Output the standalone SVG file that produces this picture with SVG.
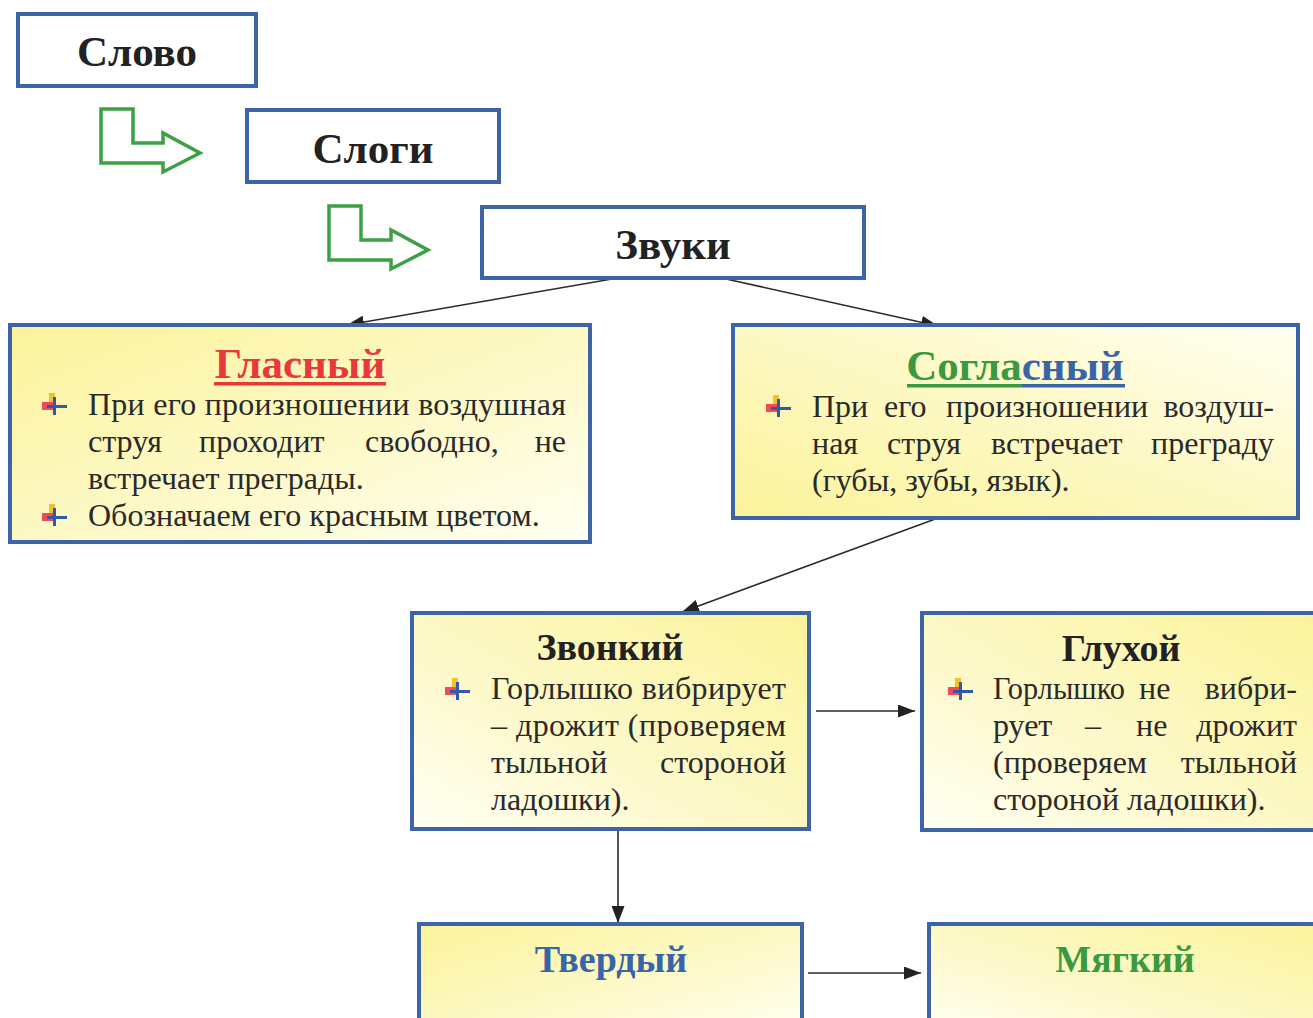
<svg xmlns="http://www.w3.org/2000/svg" width="1313" height="1018" viewBox="0 0 1313 1018">
<style>
.box{stroke:#3d64a6;stroke-width:4}
.plain{fill:#fff}
.title{font-family:"Liberation Serif","DejaVu Serif",serif;font-weight:bold;font-size:43px;fill:#222;text-anchor:middle}
.sm{font-size:38px}
.body{font-family:"Liberation Serif","DejaVu Serif",serif;font-size:32px;fill:#2a2a2a}
.end{text-anchor:end}
.conn{stroke:#2b2b2b;stroke-width:1.6;fill:none}
.garrow{fill:#fff;stroke:#3ca044;stroke-width:3.5;stroke-linejoin:miter}
</style>
<defs>
<linearGradient id="g1" x1="0" y1="0" x2="1" y2="1">
<stop offset="0" stop-color="#fbf39a"/><stop offset="0.55" stop-color="#fdf9c8"/><stop offset="1" stop-color="#fffff2"/>
</linearGradient>
<linearGradient id="g2" x1="0" y1="1" x2="1" y2="0">
<stop offset="0" stop-color="#fbf39a"/><stop offset="0.55" stop-color="#fdf9c8"/><stop offset="1" stop-color="#fffff2"/>
</linearGradient>
<linearGradient id="g3" x1="1" y1="0" x2="0" y2="1">
<stop offset="0" stop-color="#fbf39a"/><stop offset="0.6" stop-color="#fdf9cc"/><stop offset="1" stop-color="#fffff4"/>
</linearGradient>
<symbol id="bullet" viewBox="0 0 26 24" width="26" height="24">
<rect x="7" y="1" width="6" height="11" fill="#f2c12e"/>
<rect x="0" y="10" width="11" height="8" fill="#ef4b5a"/>
<rect x="5" y="13" width="20" height="3" fill="#2f5aa8"/>
<rect x="11" y="5" width="3" height="18" fill="#2f5aa8"/>
</symbol>
<marker id="arrL" viewBox="0 0 10 10" refX="10" refY="5" markerWidth="17" markerHeight="13" markerUnits="userSpaceOnUse" orient="auto" preserveAspectRatio="none">
<path d="M0,0 L10,5 L0,10 Z" fill="#222"/>
</marker>
</defs>
<rect width="1313" height="1018" fill="#fff"/>

<g id="green-arrow-1"><path class="garrow" d="M101,109 L133,109 L133,143 L163,143 L163,133 L200,153 L163,172 L163,163 L101,163 Z"/></g>
<g id="green-arrow-2"><path class="garrow" d="M329,206 L361,206 L361,240 L391,240 L391,230 L428,250 L391,269 L391,260 L329,260 Z"/></g>

<g id="connectors">
<line class="conn" x1="612" y1="279" x2="347" y2="325" marker-end="url(#arrL)"/>
<line class="conn" x1="726" y1="279" x2="938" y2="326" marker-end="url(#arrL)"/>
<line class="conn" x1="938" y1="518" x2="682" y2="612" marker-end="url(#arrL)"/>
<line class="conn" x1="816" y1="711" x2="915" y2="711" marker-end="url(#arrL)"/>
<line class="conn" x1="618" y1="830" x2="618" y2="923" marker-end="url(#arrL)"/>
<line class="conn" x1="808" y1="973" x2="921" y2="973" marker-end="url(#arrL)"/>
</g>

<g id="slovo">
<rect class="box plain" x="18" y="14" width="238" height="72"/>
<text class="title" x="137" y="66">Слово</text>
</g>
<g id="slogi">
<rect class="box plain" x="247" y="110" width="252" height="72"/>
<text class="title" x="373" y="163">Слоги</text>
</g>
<g id="zvuki">
<rect class="box plain" x="482" y="207" width="382" height="71"/>
<text class="title" x="673" y="259">Звуки</text>
</g>

<g id="glasny">
<rect class="box" x="10" y="325" width="580" height="217" fill="url(#g1)"/>
<text class="title" x="300" y="378" style="fill:#e8383c">Гласный</text>
<rect x="214" y="382" width="172" height="3.5" fill="#e8383c"/>
<use href="#bullet" x="42" y="392"/>
<text class="body" x="88" y="415" textLength="478" lengthAdjust="spacing">При его произношении воздушная</text>
<text class="body" x="88" y="452">струя</text>
<text class="body" x="199" y="452">проходит</text>
<text class="body" x="365" y="452">свободно,</text>
<text class="body end" x="566" y="452">не</text>
<text class="body" x="88" y="489">встречает преграды.</text>
<use href="#bullet" x="42" y="503"/>
<text class="body" x="88" y="526">Обозначаем его красным цветом.</text>
</g>

<g id="soglasny">
<rect class="box" x="733" y="325" width="565" height="193" fill="url(#g2)"/>
<text class="title" x="1015" y="380"><tspan style="fill:#3a9a40">Согла</tspan><tspan style="fill:#3a64a8">сный</tspan></text>
<rect x="907" y="384" width="115" height="3.5" fill="#3a9a40"/>
<rect x="1022" y="384" width="103" height="3.5" fill="#3a64a8"/>
<use href="#bullet" x="766" y="394"/>
<text class="body" x="812" y="417">При</text>
<text class="body" x="884" y="417">его</text>
<text class="body" x="946" y="417">произношении</text>
<text class="body end" x="1274" y="417">воздуш-</text>
<text class="body" x="812" y="454">ная</text>
<text class="body" x="887" y="454">струя</text>
<text class="body" x="991" y="454">встречает</text>
<text class="body end" x="1274" y="454">преграду</text>
<text class="body" x="812" y="491">(губы, зубы, язык).</text>
</g>

<g id="zvonky">
<rect class="box" x="412" y="613" width="397" height="216" fill="url(#g3)"/>
<text class="title sm" x="610" y="660">Звонкий</text>
<use href="#bullet" x="445" y="677"/>
<text class="body" x="491" y="699" textLength="295" lengthAdjust="spacing">Горлышко вибрирует</text>
<text class="body" x="491" y="736" textLength="295" lengthAdjust="spacing">– дрожит (проверяем</text>
<text class="body" x="491" y="773">тыльной</text>
<text class="body end" x="786" y="773">стороной</text>
<text class="body" x="491" y="810">ладошки).</text>
</g>

<g id="gluhoy">
<rect class="box" x="922" y="613" width="395" height="217" fill="url(#g3)"/>
<text class="title sm" x="1121" y="661">Глухой</text>
<use href="#bullet" x="948" y="677"/>
<text class="body" x="993" y="699" textLength="132" lengthAdjust="spacingAndGlyphs">Горлышко</text>
<text class="body" x="1139" y="699">не</text>
<text class="body end" x="1297" y="699">вибри-</text>
<text class="body" x="993" y="736">рует</text>
<text class="body" x="1085" y="736">–</text>
<text class="body" x="1136" y="736">не</text>
<text class="body end" x="1297" y="736">дрожит</text>
<text class="body" x="993" y="773">(проверяем</text>
<text class="body end" x="1297" y="773">тыльной</text>
<text class="body" x="993" y="810">стороной ладошки).</text>
</g>

<g id="tverdy">
<rect class="box" x="419" y="924" width="383" height="110" fill="url(#g1)"/>
<text class="title sm" x="611" y="972" style="fill:#3a64a8">Твердый</text>
</g>
<g id="myagky">
<rect class="box" x="929" y="924" width="390" height="110" fill="url(#g3)"/>
<text class="title sm" x="1125" y="972" style="fill:#3a9a40">Мягкий</text>
</g>
</svg>
